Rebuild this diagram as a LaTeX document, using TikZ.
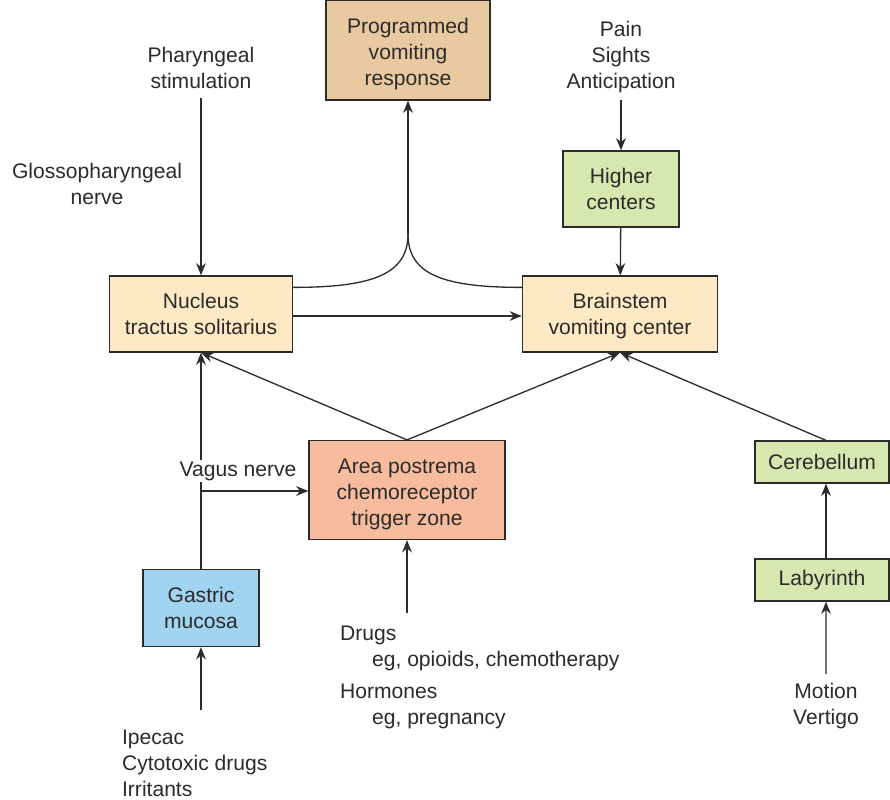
\documentclass[tikz,border=0pt]{standalone}
\usepackage{fontspec}
\setmainfont{Liberation Sans}
\usetikzlibrary{arrows.meta, positioning}
\definecolor{cTan}{HTML}{E8C9A0}
\definecolor{cGreen}{HTML}{D6E8B0}
\definecolor{cCream}{HTML}{FDE9C4}
\definecolor{cSalmon}{HTML}{F7BC9E}
\definecolor{cBlue}{HTML}{A0D4F0}
\definecolor{cInk}{HTML}{2B2B2B}

\begin{document}
\begin{tikzpicture}[x=0.02cm, y=-0.02cm,
  every node/.style={font=\fontsize{12}{14.8}\selectfont, align=center, text=cInk},
  box/.style={draw=cInk, line width=0.7pt, inner sep=0pt},
  lbl/.style={inner sep=1pt},
  link/.style={line width=0.75pt, cInk},
  arr/.style={link, -{Stealth[length=7pt, width=5.5pt]}}]
  \useasboundingbox (0,0) rectangle (890,800);
  % boxes
  \node[box, fill=cTan, minimum width=3.28cm, minimum height=2cm] (prog) at (408,50) {\rule{0pt}{13pt}Programmed\\vomiting\\response};
  \node[box, fill=cGreen, minimum width=2.32cm, minimum height=1.52cm] (higher) at (621,189) {Higher\\centers};
  \node[box, fill=cCream, minimum width=3.66cm, minimum height=1.52cm] (nts) at (201,314) {Nucleus\\tractus solitarius};
  \node[box, fill=cCream, minimum width=3.9cm, minimum height=1.52cm] (brain) at (620,314) {\rule{0pt}{11pt}Brainstem\\vomiting center};
  \node[box, fill=cSalmon, minimum width=3.92cm, minimum height=1.98cm] (ap) at (407,490) {\rule{0pt}{13pt}Area postrema\\chemoreceptor\\trigger zone};
  \node[box, fill=cBlue, minimum width=2.32cm, minimum height=1.54cm] (gast) at (201,608) {Gastric\\mucosa};
  \node[box, fill=cGreen, minimum width=2.68cm, minimum height=0.84cm] (cereb) at (822,462) {Cerebellum};
  \node[box, fill=cGreen, minimum width=2.68cm, minimum height=0.84cm] (laby) at (822,580) {Labyrinth};
  % stimuli
  \node[lbl] (phar) at (201,68) {Pharyngeal\\stimulation};
  \node[lbl] (glos) at (97,184) {Glossopharyngeal\\nerve};
  \node[lbl] (pain) at (621,57) {Pain\\Sights\\Anticipation};
  \node[lbl, align=left, anchor=north west] (drugs) at (338,624) {Drugs\\\hspace*{0.64cm}eg, opioids, chemotherapy\\[3.5pt]Hormones\\\hspace*{0.64cm}eg, pregnancy};
  \node[lbl, align=left, anchor=north west] (ipecac) at (120,728) {Ipecac\\Cytotoxic drugs\\Irritants};
  \node[lbl] (motion) at (826,706) {Motion\\Vertigo};
  \coordinate (cusp) at (408,234);
  \coordinate (vag) at (201,491);
  % connectors
  \draw[arr, shorten <=4pt] (phar) -- (nts);
  \draw[arr, shorten <=3pt] (pain) -- (higher);
  \draw[arr] (higher) -- (brain);
  \draw[arr] ([yshift=-0.04cm]nts.east) -- ([yshift=-0.04cm]brain.west);
  \draw[link] ([yshift=-0.24cm]nts.north east) .. controls +(80,0) and +(0,40) .. (cusp);
  \draw[link] ([yshift=-0.24cm]brain.north west) .. controls +(-80,0) and +(0,40) .. (cusp);
  \draw[arr] (cusp) -- (prog);
  \draw[arr] (ap.north) -- (nts.south);
  \draw[arr] (ap.north) -- (brain.south);
  \draw[arr] ([xshift=0.08cm]cereb.north) -- (brain.south);
  \draw[arr] (gast) -- (nts);
  \node[lbl, fill=white] (vagus) at (238,471) {Vagus nerve};
  \draw[arr] (vag) -- (vag -| ap.west);
  \draw[arr, shorten <=6pt] (drugs.north -| ap.south) -- (ap.south);
  \draw[arr, shorten <=10pt] (ipecac.north -| gast.south) -- (gast.south);
  \draw[arr] ([xshift=0.08cm]laby.north) -- ([xshift=0.08cm]cereb.south);
  \draw[arr, shorten <=4pt] (motion.north) -- ([xshift=0.08cm]laby.south);
\end{tikzpicture}
\end{document}
